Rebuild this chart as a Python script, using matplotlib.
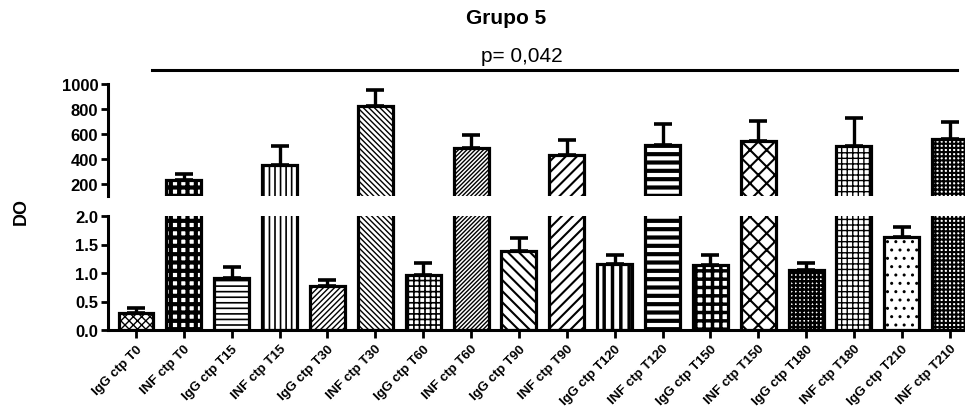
import matplotlib
matplotlib.use("Agg")
import matplotlib.pyplot as plt
import numpy as np

plt.rcParams['font.family'] = ['Liberation Sans', 'DejaVu Sans']

categories = ["IgG ctp T0", "INF ctp T0", "IgG ctp T15", "INF ctp T15",
              "IgG ctp T30", "INF ctp T30", "IgG ctp T60", "INF ctp T60",
              "IgG ctp T90", "INF ctp T90", "IgG ctp T120", "INF ctp T120",
              "IgG ctp T150", "INF ctp T150", "IgG ctp T180", "INF ctp T180",
              "IgG ctp T210", "INF ctp T210"]
means = [0.30, 225, 0.92, 352, 0.77, 826, 0.97, 486, 1.39, 430,
         1.15, 510, 1.14, 542, 1.05, 504, 1.63, 556]
err_upper = [0.08, 55, 0.19, 152, 0.10, 129, 0.20, 107, 0.23, 124,
             0.17, 166, 0.18, 161, 0.12, 221, 0.17, 141]
top_ticks = [200, 400, 600, 800, 1000]
bottom_ticks = [0.0, 0.5, 1.0, 1.5, 2.0]
title = "Grupo 5"
pvalue_text = "p= 0,042"
ylabel = "DO"

hatches = ['xxxx', '++', '---', '|||', '//////', '\\\\\\\\\\\\', '+++', '////////',
           '\\\\\\', '///', '||', '--', '++', 'xx', '++++', '+++', '..', '++++']
hatch_lw = [1.0, 3.0, 1.2, 1.2, 1.0, 1.0, 1.2, 1.0,
            1.5, 1.5, 2.5, 3.0, 2.5, 1.5, 1.8, 1.0, 1.0, 1.5]

W, H = 965, 410
fig = plt.figure(figsize=(W / 100, H / 100), dpi=100)

left = 108 / W
right = 1.0
ax_top = fig.add_axes([left, 1 - 197 / H, right - left, (197 - 85) / H])
ax_bot = fig.add_axes([left, 1 - 331 / H, right - left, (331 - 217) / H])

x = np.arange(len(categories))
for ax in (ax_top, ax_bot):
    for i in range(len(categories)):
        with plt.rc_context({'hatch.linewidth': hatch_lw[i]}):
            b = ax.bar(x[i], means[i], width=0.73, color='white',
                       edgecolor='black', linewidth=2.3, hatch=hatches[i],
                       zorder=2)
            for p in b.patches:
                try:
                    p.set_hatch_linewidth(hatch_lw[i])
                except AttributeError:
                    pass
    ax.errorbar(x, means, yerr=[np.zeros(len(means)), err_upper], fmt='none',
                ecolor='black', elinewidth=2.4, capsize=6.5, capthick=2.6,
                zorder=1)
    ax.set_xlim(-0.585, 17.32)
    for s in ('top', 'right'):
        ax.spines[s].set_visible(False)
    ax.spines['left'].set_linewidth(2.2)
    ax.spines['bottom'].set_linewidth(2.2)
    ax.tick_params(axis='y', direction='out', length=5, width=2, labelsize=12, pad=2)

ax_top.set_ylim(100, 1000)
ax_top.set_yticks(top_ticks)
ax_top.set_yticklabels([str(t) for t in top_ticks], fontweight='bold', fontsize=12)
ax_top.spines['bottom'].set_visible(False)
ax_top.set_xticks([])

ax_bot.set_ylim(0, 2.0)
ax_bot.set_yticks(bottom_ticks)
ax_bot.set_yticklabels(["%.1f" % t for t in bottom_ticks], fontweight='bold', fontsize=12)
ax_bot.set_xticks(x)
ax_bot.set_xticklabels(categories, rotation=45, ha='right', rotation_mode='anchor',
                       fontweight='bold', fontsize=9.5)
ax_bot.tick_params(axis='x', direction='out', length=6, width=2, pad=3)

fig.text(506 / W, 1 - 18 / H, title, ha='center', va='center',
         fontsize=15, fontweight='bold')
fig.text(522 / W, 1 - 56 / H, pvalue_text, ha='center', va='center', fontsize=15)
fig.add_artist(plt.Line2D([152 / W, 957 / W], [1 - 71 / H, 1 - 71 / H],
                          color='black', linewidth=2.2, transform=fig.transFigure))
fig.text(21 / W, 1 - 212 / H, ylabel, rotation=90, ha='center', va='center',
         fontsize=13, fontweight='bold')

fig.savefig('out.png', dpi=100)
